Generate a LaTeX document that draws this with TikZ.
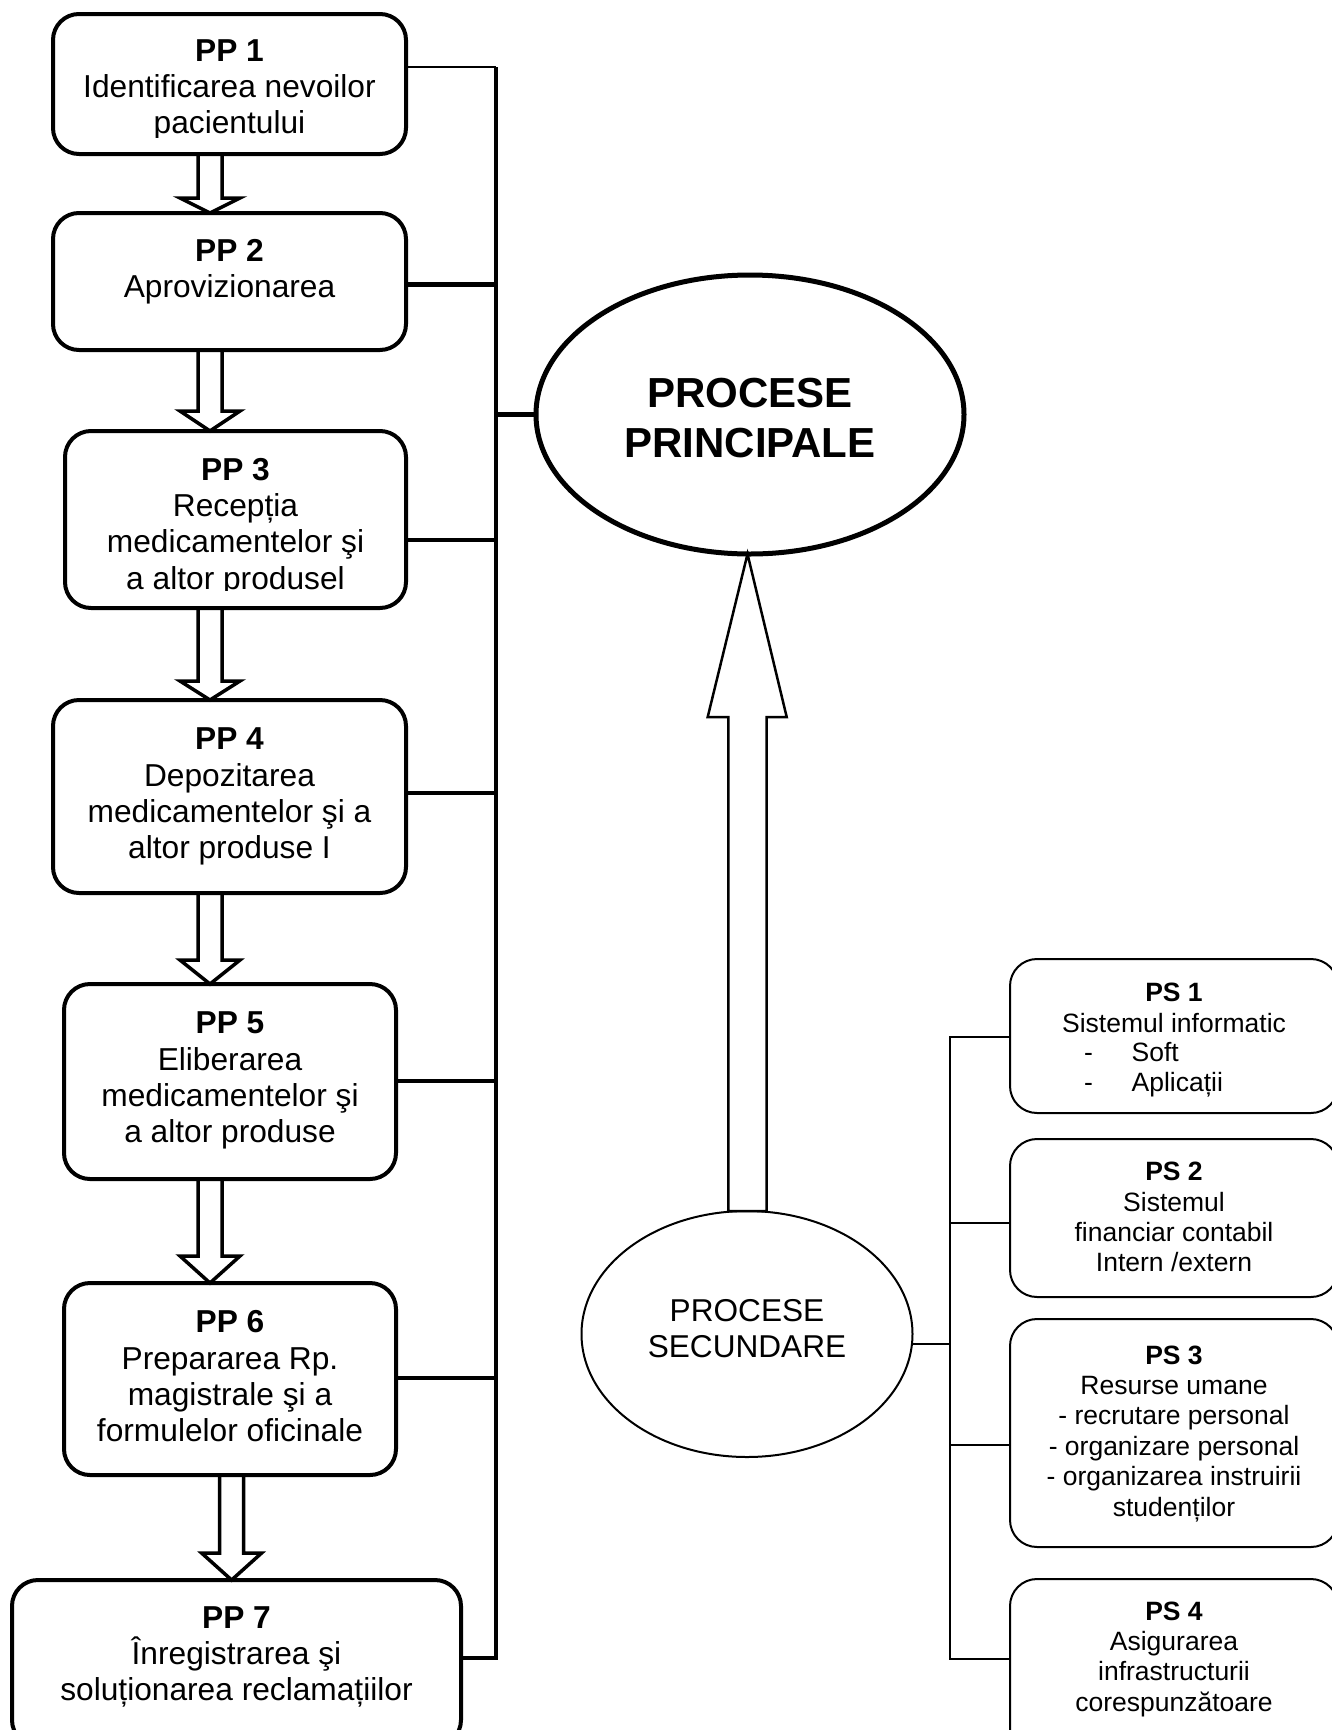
\documentclass[tikz,border=0pt]{standalone}
\usepackage{fontspec}
\setmainfont{Liberation Sans}
\usetikzlibrary{shapes.geometric,calc}
\newcommand\blkarrow[4]{%
  \draw[blockarrow] let \p1=(#1.south), \p2=(#2.north) in
    ({#3pt-12pt},\y1) -- ({#3pt-12pt},{\y2+#4pt}) -- ({#3pt-30pt},{\y2+#4pt}) -- (#3pt,\y2)
    -- ({#3pt+30pt},{\y2+#4pt}) -- ({#3pt+12pt},{\y2+#4pt}) -- ({#3pt+12pt},\y1);}
\tikzset{
  ppbox/.style={draw, rounded corners=26pt, line width=4pt, inner sep=0pt, outer sep=0pt},
  psbox/.style={draw, rounded corners=27pt, line width=2pt, inner sep=0pt, outer sep=0pt},
  pptext/.style={font=\fontsize{31.7}{36.4}\selectfont, align=center, inner sep=0pt, outer sep=0pt, anchor=north},
  pstext/.style={font=\fontsize{26.5}{30.4}\selectfont, align=center, inner sep=0pt, outer sep=0pt, anchor=north},
  conn/.style={line width=4.5pt},
  thinconn/.style={line width=2pt},
  blockarrow/.style={line width=3.5pt, line join=miter},
  bigarrow/.style={line width=2.5pt, line join=miter},
}
\begin{document}
\begin{tikzpicture}[x=1pt,y=-1pt]
\fill[white] (0,0) rectangle (1332,1730);
\useasboundingbox (0,0) rectangle (1332,1730);

% ---- main process boxes
\node[ppbox, minimum width=353pt, minimum height=140pt] (pp1) at (229.5,84) {};
\node[ppbox, minimum width=353pt, minimum height=137pt] (pp2) at (229.5,281.5) {};
\node[ppbox, minimum width=341pt, minimum height=177pt] (pp3) at (235.5,519.5) {};
\node[ppbox, minimum width=353pt, minimum height=193pt] (pp4) at (229.5,796.5) {};
\node[ppbox, minimum width=332pt, minimum height=195pt] (pp5) at (230,1081.5) {};
\node[ppbox, minimum width=332pt, minimum height=192pt] (pp6) at (230,1379) {};
\node[ppbox, minimum width=449pt, minimum height=166pt] (pp7) at (236.5,1663) {};

\begin{scope}
\clip (0,0) rectangle (420,137.5);
\node[pptext] (t1) at (229.5,31) {\rule{0pt}{30pt}\textbf{PP 1}\\Identificarea nevoilor\\pacientului};
\end{scope}
\node[pptext] (t2) at (229.5,231) {\rule{0pt}{30pt}\textbf{PP 2}\\Aprovizionarea};
\begin{scope}
\clip (0,400) rectangle (420,590);
\node[pptext] (t3) at (235.5,450) {\rule{0pt}{30pt}\textbf{PP 3}\\Recepția\\medicamentelor şi\\a altor produsel};
\end{scope}
\node[pptext] (t4) at (229.5,719.6) {\rule{0pt}{30pt}\textbf{PP 4}\\Depozitarea\\medicamentelor şi a\\altor produse I};
\node[pptext] (t5) at (230,1003.6) {\rule{0pt}{30pt}\textbf{PP 5}\\Eliberarea\\medicamentelor şi\\a altor produse};
\node[pptext] (t6) at (230,1302.7) {\rule{0pt}{30pt}\textbf{PP 6}\\Prepararea Rp.\\magistrale şi a\\formulelor oficinale};
\node[pptext] (t7) at (236.5,1598) {\rule{0pt}{30pt}\textbf{PP 7}\\Înregistrarea şi\\soluționarea reclamațiilor};

% ---- hollow arrows between main boxes
\blkarrow{pp1}{pp2}{210}{15}
\blkarrow{pp2}{pp3}{210}{20}
\blkarrow{pp3}{pp4}{210}{19}
\blkarrow{pp4}{pp5}{210}{24}
\blkarrow{pp5}{pp6}{210}{27}
\blkarrow{pp6}{pp7}{231.6}{27}

% ---- ellipses
\node[ellipse, draw, line width=5pt, minimum width=428pt, minimum height=279pt, inner sep=0pt, outer sep=0pt] (prin) at (750,414.5) {};
\node[font=\bfseries\fontsize{42}{50}\selectfont, align=center, inner sep=0pt, outer sep=0pt, anchor=north] (tprin) at (750,373) {\rule{0pt}{34pt}PROCESE\\PRINCIPALE};
\node[ellipse, draw, line width=2pt, minimum width=331pt, minimum height=246pt, inner sep=0pt, outer sep=0pt] (sec) at (747,1334) {};
\node[font=\fontsize{31.6}{36.3}\selectfont, align=center, inner sep=0pt, outer sep=0pt, anchor=north] (tsec) at (747,1293) {\rule{0pt}{28pt}PROCESE\\SECUNDARE};

% ---- big upward arrow
\draw[bigarrow] let \p1=(sec.north), \p2=(prin.south) in
  (728.3pt,\y1) -- (728.3pt,{\y2-163pt}) -- (707.7pt,{\y2-163pt}) -- (747.5pt,\y2)
  -- (786.7pt,{\y2-163pt}) -- (766.7pt,{\y2-163pt}) -- (766.7pt,\y1) -- cycle;

% ---- left bus
\coordinate (bt) at (496,67);
\coordinate (bb) at (496,1658);
\coordinate (b2) at (496,284.7);
\coordinate (b3) at (496,540);
\coordinate (b4) at (496,793);
\coordinate (b5) at (496,1081);
\coordinate (b6) at (496,1378);
\draw[line width=2.5pt] (pp1.east |- bt) -- (bt);
\draw[conn, line join=miter] (pp7.east |- bb) -- (bb) -- (bt);
\draw[conn] (pp2.east |- b2) -- (b2);
\draw[conn] (pp3.east |- b3) -- (b3);
\draw[conn] (pp4.east |- b4) -- (b4);
\draw[conn] (pp5.east |- b5) -- (b5);
\draw[conn] (pp6.east |- b6) -- (b6);
\draw[conn] (prin.west -| bt) -- (prin.west);

% ---- secondary boxes
\node[psbox, minimum width=328pt, minimum height=154pt] (ps1) at (1174,1036) {};
\node[psbox, minimum width=328pt, minimum height=158pt] (ps2) at (1174,1218) {};
\node[psbox, minimum width=328pt, minimum height=228pt] (ps3) at (1174,1433) {};
\node[psbox, minimum width=328pt, minimum height=181pt] (ps4) at (1174,1669.5) {};

\node[pstext] (u1) at (1174,976.7) {\rule{0pt}{25pt}\textbf{PS 1}\\Sistemul informatic};
\node[pstext, align=left, anchor=north west] (u1l) at (1084,1036) {\rule{0pt}{25pt}\makebox[47.7pt][l]{-}Soft\\\makebox[47.7pt][l]{-}Aplicații};
\node[pstext] (u2) at (1174,1155.7) {\rule{0pt}{25pt}\textbf{PS 2}\\Sistemul\\financiar contabil\\Intern /extern};
\node[pstext] (u3) at (1174,1339) {\rule{0pt}{25pt}\textbf{PS 3}\\Resurse umane\\- recrutare personal\\- organizare personal\\- organizarea instruirii\\studenților};
\node[pstext] (u4) at (1174,1595) {\rule{0pt}{25pt}\textbf{PS 4}\\Asigurarea\\infrastructurii\\corespunzătoare};

% ---- right bus
\coordinate (st) at (950,1037);
\coordinate (sb) at (950,1659);
\coordinate (s2) at (950,1223);
\coordinate (s3) at (950,1445);
\coordinate (sj) at (950,1344);
\draw[thinconn] (ps1.west |- st) -- (st) -- (sb) -- (ps4.west |- sb);
\draw[thinconn] (s2) -- (ps2.west |- s2);
\draw[thinconn] (s3) -- (ps3.west |- s3);
\draw[thinconn] (sec.east |- sj) -- (sj);
\end{tikzpicture}
\end{document}
